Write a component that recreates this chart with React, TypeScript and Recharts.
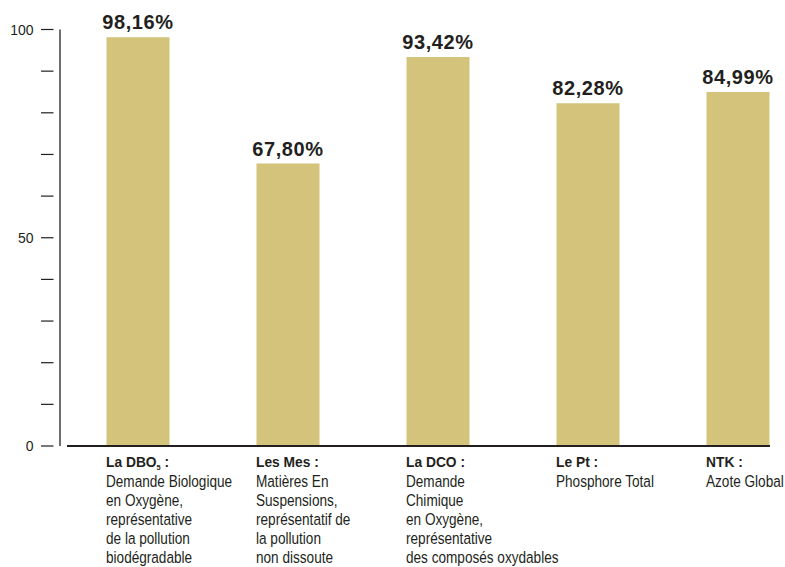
import { BarChart, Bar, XAxis, YAxis, LabelList } from "recharts";

// abattement rates per parameter (%)
const keys = ["DBO5", "MES", "DCO", "PT", "NTK"];
const titles = ["La DBO", "Les Mes", "La DCO", "Le Pt", "NTK"];
const titleSubs = ["5", "", "", "", ""];
const descriptions = [
  ["Demande Biologique", "en Oxygène,", "représentative", "de la pollution", "biodégradable"],
  ["Matières En", "Suspensions,", "représentatif de", "la pollution", "non dissoute"],
  ["Demande", "Chimique", "en Oxygène,", "représentative", "des composés oxydables"],
  ["Phosphore Total"],
  ["Azote Global"],
];
const rates = [98.16, 67.8, 93.42, 82.28, 84.99];
const yTicks = [0, 10, 20, 30, 40, 50, 60, 70, 80, 90, 100];
const yLabels = [0, 50, 100];

const data = keys.map((k, i) => ({ key: k, rate: rates[i] }));

const INK = "#231f20";
const BAR = "#d3c37b";
const BAR_W = 63;
const SANS = "'Liberation Sans', Arial, Helvetica, sans-serif";

function YTick(props: any) {
  const { x, y, payload } = props;
  const v = payload.value;
  return (
    <g>
      <line x1={x - 19} x2={x - 6.5} y1={y} y2={y} stroke={INK} strokeWidth={1.2} />
      {yLabels.includes(v) && (
        <text x={x - 26.5} y={y} dy={5} textAnchor="end" fontSize={14} fontFamily={SANS} fill={INK}>
          {v}
        </text>
      )}
    </g>
  );
}

// narrow look: the source uses a condensed face, so squeeze horizontally
function XTick(props: any) {
  const { x, y, payload } = props;
  const i = payload.index ?? keys.indexOf(payload.value);
  const left = x - BAR_W / 2;
  const sub = titleSubs[i];
  return (
    <g fontFamily={SANS} fill={INK}>
      <g transform={`translate(${left},${y + 21.3}) scale(0.92,1)`}>
        <text x={0} y={0} fontSize={15} fontWeight="bold">
          <tspan>{titles[i]}</tspan>
          {sub ? (
            <>
              <tspan dy={3} fontSize={8}>{sub}</tspan>
              <tspan dy={-3}> :</tspan>
            </>
          ) : (
            <tspan> :</tspan>
          )}
        </text>
      </g>
      <g transform={`translate(${left},${y + 40.7}) scale(0.8,1)`}>
        {descriptions[i].map((line, j) => (
          <text key={j} x={0} y={j * 19.1} fontSize={17}>
            {line}
          </text>
        ))}
      </g>
    </g>
  );
}

function ValueLabel(props: any) {
  const { x, y, width, value } = props;
  return (
    <text
      x={x + width / 2}
      y={y - 8}
      textAnchor="middle"
      fontSize={20}
      fontWeight="bold"
      letterSpacing={0.6}
      fontFamily={SANS}
      fill={INK}
    >
      {value.toFixed(2).replace(".", ",")}%
    </text>
  );
}

export default function App() {
  return (
    <div style={{ position: "absolute", left: 0, top: 0, width: 785, height: 567, overflow: "hidden", background: "#fff" }}>
      <BarChart width={830} height={567} data={data} margin={{ top: 29.5, right: 17.5, bottom: 0, left: 0 }}>
        <YAxis
          domain={[0, 100]}
          ticks={yTicks}
          interval={0}
          width={60}
          tickLine={false}
          tickSize={0}
          tickMargin={0}
          axisLine={{ stroke: INK, strokeWidth: 1.3 }}
          tick={<YTick />}
        />
        <XAxis
          dataKey="key"
          height={121}
          interval={0}
          padding={{ left: 2.5, right: 0 }}
          tickLine={false}
          tickSize={0}
          tickMargin={0}
          axisLine={{ stroke: INK, strokeWidth: 2, strokeDasharray: "0 7 703 1000" }}
          tick={<XTick />}
        />
        <Bar dataKey="rate" fill={BAR} barSize={BAR_W} isAnimationActive={false}>
          <LabelList dataKey="rate" content={<ValueLabel />} />
        </Bar>
      </BarChart>
    </div>
  );
}
